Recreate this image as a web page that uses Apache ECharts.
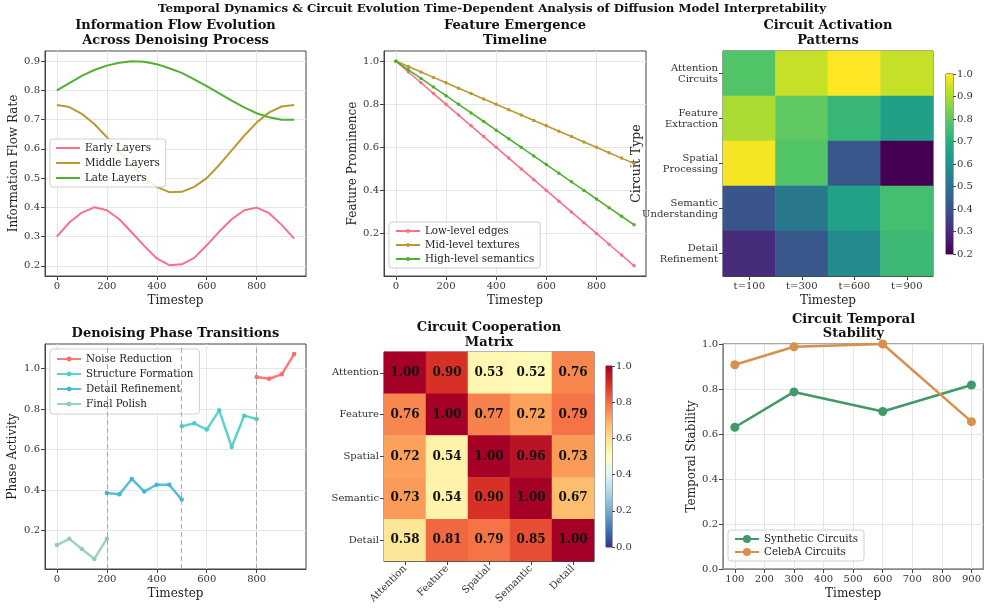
<!DOCTYPE html>
<html><head><meta charset="utf-8">
<script src="https://cdn.jsdelivr.net/npm/echarts@6/dist/echarts.min.js"></script>
<style>html,body{margin:0;padding:0;background:#fff}#c{width:984px;height:610px}</style>
</head><body><div id="c"></div>
<script>
// ---------- DATA ----------
const timesteps = [0,50,100,150,200,250,300,350,400,450,500,550,600,650,700,750,800,850,900,950];
const earlyLayers  = [0.300,0.348,0.382,0.400,0.390,0.359,0.314,0.268,0.225,0.202,0.205,0.227,0.270,0.317,0.359,0.390,0.399,0.380,0.340,0.293];
const middleLayers = [0.750,0.743,0.720,0.685,0.640,0.592,0.545,0.502,0.470,0.452,0.453,0.470,0.500,0.545,0.595,0.645,0.690,0.725,0.745,0.750];
const lateLayers   = [0.800,0.825,0.850,0.870,0.885,0.895,0.900,0.898,0.890,0.876,0.860,0.838,0.815,0.790,0.765,0.742,0.722,0.708,0.700,0.700];

const lowLevelEdges = [1.00,0.95,0.90,0.85,0.80,0.75,0.70,0.65,0.60,0.55,0.50,0.45,0.40,0.35,0.30,0.25,0.20,0.15,0.10,0.05];
const midLevelTextures = [1.000,0.975,0.950,0.925,0.900,0.875,0.850,0.825,0.800,0.775,0.750,0.725,0.700,0.675,0.650,0.625,0.600,0.575,0.550,0.525];
const highLevelSemantics = [1.00,0.96,0.92,0.88,0.84,0.80,0.76,0.72,0.68,0.64,0.60,0.56,0.52,0.48,0.44,0.40,0.36,0.32,0.28,0.24];

const activationTimes = ['t=100','t=300','t=600','t=900'];
const circuitTypes = ['Attention\nCircuits','Feature\nExtraction','Spatial\nProcessing','Semantic\nUnderstanding','Detail\nRefinement'];
const activationValues = [
  [0.78,0.93,1.00,0.93],
  [0.90,0.80,0.73,0.65],
  [0.99,0.78,0.42,0.20],
  [0.41,0.52,0.66,0.76],
  [0.30,0.42,0.58,0.74]
];

const noiseT = [800,850,900,950];
const noiseV = [0.959,0.950,0.972,1.072];
const structureT = [500,550,600,650,700,750,800];
const structureV = [0.715,0.730,0.699,0.794,0.613,0.768,0.751];
const detailT = [200,250,300,350,400,450,500];
const detailV = [0.386,0.379,0.455,0.393,0.427,0.426,0.353];
const polishT = [0,50,100,150,200];
const polishV = [0.128,0.159,0.109,0.060,0.159];
const phaseBoundaries = [200,500,800];

const coopLabels = ['Attention','Feature','Spatial','Semantic','Detail'];
const coopMatrix = [
  [1.00,0.90,0.53,0.52,0.76],
  [0.76,1.00,0.77,0.72,0.79],
  [0.72,0.54,1.00,0.96,0.73],
  [0.73,0.54,0.90,1.00,0.67],
  [0.58,0.81,0.79,0.85,1.00]
];

const stabilityT = [100,300,600,900];
const syntheticStability = [0.630,0.787,0.700,0.818];
const celebaStability = [0.908,0.988,1.000,0.655];

const tsTicks = [0,200,400,600,800];
const flowTicks = [0.2,0.3,0.4,0.5,0.6,0.7,0.8,0.9];
const promTicks = [0.2,0.4,0.6,0.8,1.0];
const phaseTicks = [0.2,0.4,0.6,0.8,1.0];
const stabXTicks = [100,200,300,400,500,600,700,800,900];
const stabYTicks = [0.0,0.2,0.4,0.6,0.8,1.0];

// ---------- STYLE ----------
const FF = 'DejaVu Serif';
const viridis = ['#440154','#482475','#414487','#355f8d','#2a788e','#21918c','#22a884','#44bf70','#7ad151','#bddf26','#fde725'];
const rdylbu_r = ['#313695','#4575b4','#74add1','#abd9e9','#e0f3f8','#ffffbf','#fee090','#fdae61','#f46d43','#d73027','#a50026'];
const GRIDC = '#e6e6e6';
const lbl = {fontFamily:FF, fontSize:10, color:'#333'};

function vAxis(gi, min, max, ticks, fmt, name, nameGap, frame) {
  return {type:'value', gridIndex:gi, min:min, max:max,
    name:name||'', nameLocation:'middle', nameGap:nameGap||20,
    nameTextStyle:{fontFamily:FF, fontSize:12, color:'#222'},
    axisLine:{show:true, onZero:false, lineStyle:{color:frame||'#444'}},
    axisTick:{show:true, customValues:ticks, length:4, lineStyle:{color:'#444'}},
    axisLabel:Object.assign({customValues:ticks, margin:5, formatter:fmt}, lbl),
    splitLine:{show:true, lineStyle:{color:GRIDC, width:1}}};
}
const f0 = v => String(Math.round(v));
const f1 = v => Number(v).toFixed(1);

function zip(a,b){ return a.map((x,i)=>[x,b[i]]); }

function colorbar(ai, min, max, colors) {
  return {type:'custom', xAxisIndex:ai, yAxisIndex:ai, silent:true, data:[[0,min,max]],
    renderItem:function(params, api){
      const p0 = api.coord([0, api.value(1)]);
      const p1 = api.coord([0, api.value(2)]);
      const w = api.size([1,0])[0];
      return {type:'rect', shape:{x:p0[0]-w/2, y:p1[1], width:w, height:p0[1]-p1[1]},
        style:{fill:new echarts.graphic.LinearGradient(0,1,0,0, colors.map((c,i)=>({offset:i/(colors.length-1), color:c})))}};
    }};
}

const heat1 = [];
activationValues.forEach((row,i)=>row.forEach((v,j)=>heat1.push([j,i,v])));
const heat2 = [];
coopMatrix.forEach((row,i)=>row.forEach((v,j)=>heat2.push([j,i,v])));

function titleAt(x, top, text, lh) {
  return {text:text, left:x, top:top, textAlign:'center', padding:0,
    textStyle:{fontFamily:FF, fontWeight:'bold', fontSize:13, color:'#111', lineHeight:lh||15}};
}

const legStyle = {orient:'vertical', backgroundColor:'rgba(255,255,255,0.85)', borderColor:'#d0d0d0', borderWidth:1,
  borderRadius:3, padding:[4,6,4,6], itemGap:3, itemWidth:24, itemHeight:10,
  textStyle:{fontFamily:FF, fontSize:10.3, color:'#222'}};

const option = {
  animation:false,
  backgroundColor:'#fff',
  title:[
    {text:'Temporal Dynamics & Circuit Evolution Time-Dependent Analysis of Diffusion Model Interpretability', left:492, top:3, textAlign:'center', padding:0,
     textStyle:{fontFamily:FF, fontWeight:'bold', fontSize:11.8, color:'#111'}},
    titleAt(175.5, 18.5, 'Information Flow Evolution\nAcross Denoising Process'),
    titleAt(515, 18.5, 'Feature Emergence\nTimeline'),
    titleAt(828, 18.5, 'Circuit Activation\nPatterns'),
    titleAt(175.5, 326.5, 'Denoising Phase Transitions'),
    titleAt(489, 320.5, 'Circuit Cooperation\nMatrix'),
    titleAt(853.5, 312.5, 'Circuit Temporal\nStability', 14)
  ],
  grid:[
    {left:45, top:51, width:261, height:225, show:true, borderColor:'#444', borderWidth:1, backgroundColor:'transparent'},
    {left:384, top:51, width:262, height:225, show:true, borderColor:'#444', borderWidth:1, backgroundColor:'transparent'},
    {left:723, top:51, width:210, height:225, show:true, borderColor:'#444', borderWidth:1, backgroundColor:'transparent'},
    {left:45, top:344, width:261, height:225, show:true, borderColor:'#444', borderWidth:1, backgroundColor:'transparent'},
    {left:384, top:352, width:210, height:209, show:true, borderColor:'#444', borderWidth:1, backgroundColor:'transparent'},
    {left:723, top:344, width:261, height:225, show:true, borderColor:'#888', borderWidth:1.5, backgroundColor:'transparent'},
    {left:946, top:74, width:7, height:180, show:true, borderColor:'#444', borderWidth:1, backgroundColor:'transparent'},
    {left:606, top:366, width:6, height:181, show:true, borderColor:'#444', borderWidth:1, backgroundColor:'transparent'}
  ],
  xAxis:[
    vAxis(0, -47.5, 997.5, tsTicks, f0, 'Timestep', 19),
    vAxis(1, -47.5, 997.5, tsTicks, f0, 'Timestep', 19),
    {type:'category', gridIndex:2, data:activationTimes, name:'Timestep', nameLocation:'middle', nameGap:19,
     nameTextStyle:{fontFamily:FF, fontSize:12, color:'#222'},
     axisLine:{show:true, lineStyle:{color:'#444'}}, axisTick:{show:true, alignWithLabel:true, length:4, lineStyle:{color:'#444'}},
     axisLabel:Object.assign({margin:5}, lbl), splitLine:{show:false}},
    vAxis(3, -47.5, 997.5, tsTicks, f0, 'Timestep', 19),
    {type:'category', gridIndex:4, data:coopLabels,
     axisLine:{show:true, lineStyle:{color:'#444'}}, axisTick:{show:true, alignWithLabel:true, length:4, lineStyle:{color:'#444'}},
     axisLabel:Object.assign({margin:6, rotate:45, interval:0}, lbl), splitLine:{show:false}},
    vAxis(5, 60, 940, stabXTicks, f0, 'Timestep', 19, '#888'),
    {type:'category', gridIndex:6, data:['c'], show:false},
    {type:'category', gridIndex:7, data:['c'], show:false}
  ],
  yAxis:[
    vAxis(0, 0.165, 0.935, flowTicks, f1, 'Information Flow Rate', 25),
    vAxis(1, 0.0025, 1.0475, promTicks, f1, 'Feature Prominence', 25),
    {type:'category', gridIndex:2, data:circuitTypes, inverse:true, name:'Circuit Type', nameLocation:'middle', nameGap:80, nameMoveOverlap:false,
     nameTextStyle:{fontFamily:FF, fontSize:12.5, color:'#222'},
     axisLine:{show:true, lineStyle:{color:'#444'}}, axisTick:{show:true, alignWithLabel:true, length:4, lineStyle:{color:'#444'}},
     axisLabel:Object.assign({margin:5, lineHeight:11}, lbl), splitLine:{show:false}},
    vAxis(3, 0.01, 1.122, phaseTicks, f1, 'Phase Activity', 26),
    {type:'category', gridIndex:4, data:coopLabels, inverse:true,
     axisLine:{show:true, lineStyle:{color:'#444'}}, axisTick:{show:true, alignWithLabel:true, length:4, lineStyle:{color:'#444'}},
     axisLabel:Object.assign({margin:5}, lbl), splitLine:{show:false}},
    vAxis(5, 0, 1, stabYTicks, f1, 'Temporal Stability', 25, '#888'),
    {type:'value', gridIndex:6, position:'right', min:0.2, max:1.0, interval:0.1,
     axisLine:{show:false}, axisTick:{show:true, length:3, lineStyle:{color:'#444'}},
     axisLabel:Object.assign({margin:4, formatter:f1}, lbl), splitLine:{show:false}},
    {type:'value', gridIndex:7, position:'right', min:0, max:1.0, interval:0.2,
     axisLine:{show:false}, axisTick:{show:true, length:3, lineStyle:{color:'#444'}},
     axisLabel:Object.assign({margin:4, formatter:f1}, lbl), splitLine:{show:false}}
  ],
  visualMap:[
    {type:'continuous', show:false, seriesIndex:6, min:0.2, max:1.0, inRange:{color:viridis}},
    {type:'continuous', show:false, seriesIndex:12, min:0, max:1.0, inRange:{color:rdylbu_r}}
  ],
  legend:[
    Object.assign({}, legStyle, {left:50, top:139, icon:'rect', itemHeight:2, itemGap:5, data:['Early Layers','Middle Layers','Late Layers']}),
    Object.assign({}, legStyle, {left:389, top:222, itemHeight:5, itemGap:4, data:['Low-level edges','Mid-level textures','High-level semantics']}),
    Object.assign({}, legStyle, {left:50, top:349, itemHeight:6, itemGap:5, padding:[5,6,5,6], data:['Noise Reduction','Structure Formation','Detail Refinement','Final Polish']}),
    Object.assign({}, legStyle, {left:728, top:530, itemHeight:10, itemGap:3, data:['Synthetic Circuits','CelebA Circuits']})
  ],
  series:[
    // 0-2 panel 1
    {type:'line', name:'Early Layers', xAxisIndex:0, yAxisIndex:0, data:zip(timesteps, earlyLayers), symbol:'none', lineStyle:{width:2, color:'#f77189'}, itemStyle:{color:'#f77189'}},
    {type:'line', name:'Middle Layers', xAxisIndex:0, yAxisIndex:0, data:zip(timesteps, middleLayers), symbol:'none', lineStyle:{width:2, color:'#bb9832'}, itemStyle:{color:'#bb9832'}},
    {type:'line', name:'Late Layers', xAxisIndex:0, yAxisIndex:0, data:zip(timesteps, lateLayers), symbol:'none', lineStyle:{width:2, color:'#50b131'}, itemStyle:{color:'#50b131'}},
    // 3-5 panel 2
    {type:'line', name:'Low-level edges', xAxisIndex:1, yAxisIndex:1, data:zip(timesteps, lowLevelEdges), symbol:'circle', symbolSize:3.5, showAllSymbol:true, lineStyle:{width:1.6, color:'#f77189'}, itemStyle:{color:'#f77189'}},
    {type:'line', name:'Mid-level textures', xAxisIndex:1, yAxisIndex:1, data:zip(timesteps, midLevelTextures), symbol:'circle', symbolSize:3.5, showAllSymbol:true, lineStyle:{width:1.6, color:'#bb9832'}, itemStyle:{color:'#bb9832'}},
    {type:'line', name:'High-level semantics', xAxisIndex:1, yAxisIndex:1, data:zip(timesteps, highLevelSemantics), symbol:'circle', symbolSize:3.5, showAllSymbol:true, lineStyle:{width:1.6, color:'#50b131'}, itemStyle:{color:'#50b131'}},
    // 6 heatmap 1
    {type:'heatmap', xAxisIndex:2, yAxisIndex:2, data:heat1, itemStyle:{borderWidth:0}},
    // 7 colorbar 1
    colorbar(6, 0.2, 1.0, viridis),
    // 8-11 panel 4
    {type:'line', name:'Noise Reduction', xAxisIndex:3, yAxisIndex:3, data:zip(noiseT, noiseV), symbol:'circle', symbolSize:4.5, lineStyle:{width:2.5, color:'#FF6B6B', opacity:0.9}, itemStyle:{color:'#FF6B6B'}},
    {type:'line', name:'Structure Formation', xAxisIndex:3, yAxisIndex:3, data:zip(structureT, structureV), symbol:'circle', symbolSize:4.5, lineStyle:{width:2.5, color:'#4ECDC4', opacity:0.9}, itemStyle:{color:'#4ECDC4'}},
    {type:'line', name:'Detail Refinement', xAxisIndex:3, yAxisIndex:3, data:zip(detailT, detailV), symbol:'circle', symbolSize:4.5, lineStyle:{width:2.5, color:'#45B7D1', opacity:0.9}, itemStyle:{color:'#45B7D1'}},
    {type:'line', name:'Final Polish', xAxisIndex:3, yAxisIndex:3, data:zip(polishT, polishV), symbol:'circle', symbolSize:4.5, lineStyle:{width:2.5, color:'#96CEB4', opacity:0.9}, itemStyle:{color:'#96CEB4'},
     markLine:{silent:true, symbol:'none', label:{show:false}, lineStyle:{color:'#999', type:[5,3], width:1, opacity:0.8},
       data:phaseBoundaries.map(v=>({xAxis:v}))}},
    // 12 heatmap 2
    {type:'heatmap', xAxisIndex:4, yAxisIndex:4, data:heat2, itemStyle:{borderWidth:0},
     label:{show:true, formatter:p=>p.value[2].toFixed(2), fontFamily:FF, fontWeight:'bold', fontSize:12, color:'#111'}},
    // 13 colorbar 2
    colorbar(7, 0, 1.0, rdylbu_r),
    // 14-15 panel 6
    {type:'line', name:'Synthetic Circuits', xAxisIndex:5, yAxisIndex:5, data:zip(stabilityT, syntheticStability), symbol:'circle', symbolSize:9, lineStyle:{width:2.5, color:'#3f9a68'}, itemStyle:{color:'#3f9a68'}},
    {type:'line', name:'CelebA Circuits', xAxisIndex:5, yAxisIndex:5, data:zip(stabilityT, celebaStability), symbol:'circle', symbolSize:9, lineStyle:{width:2.5, color:'#d98f4e'}, itemStyle:{color:'#d98f4e'}}
  ]
};

const chart = echarts.init(document.getElementById('c'), null, {renderer:'canvas'});
chart.setOption(option);
</script>
</body></html>
